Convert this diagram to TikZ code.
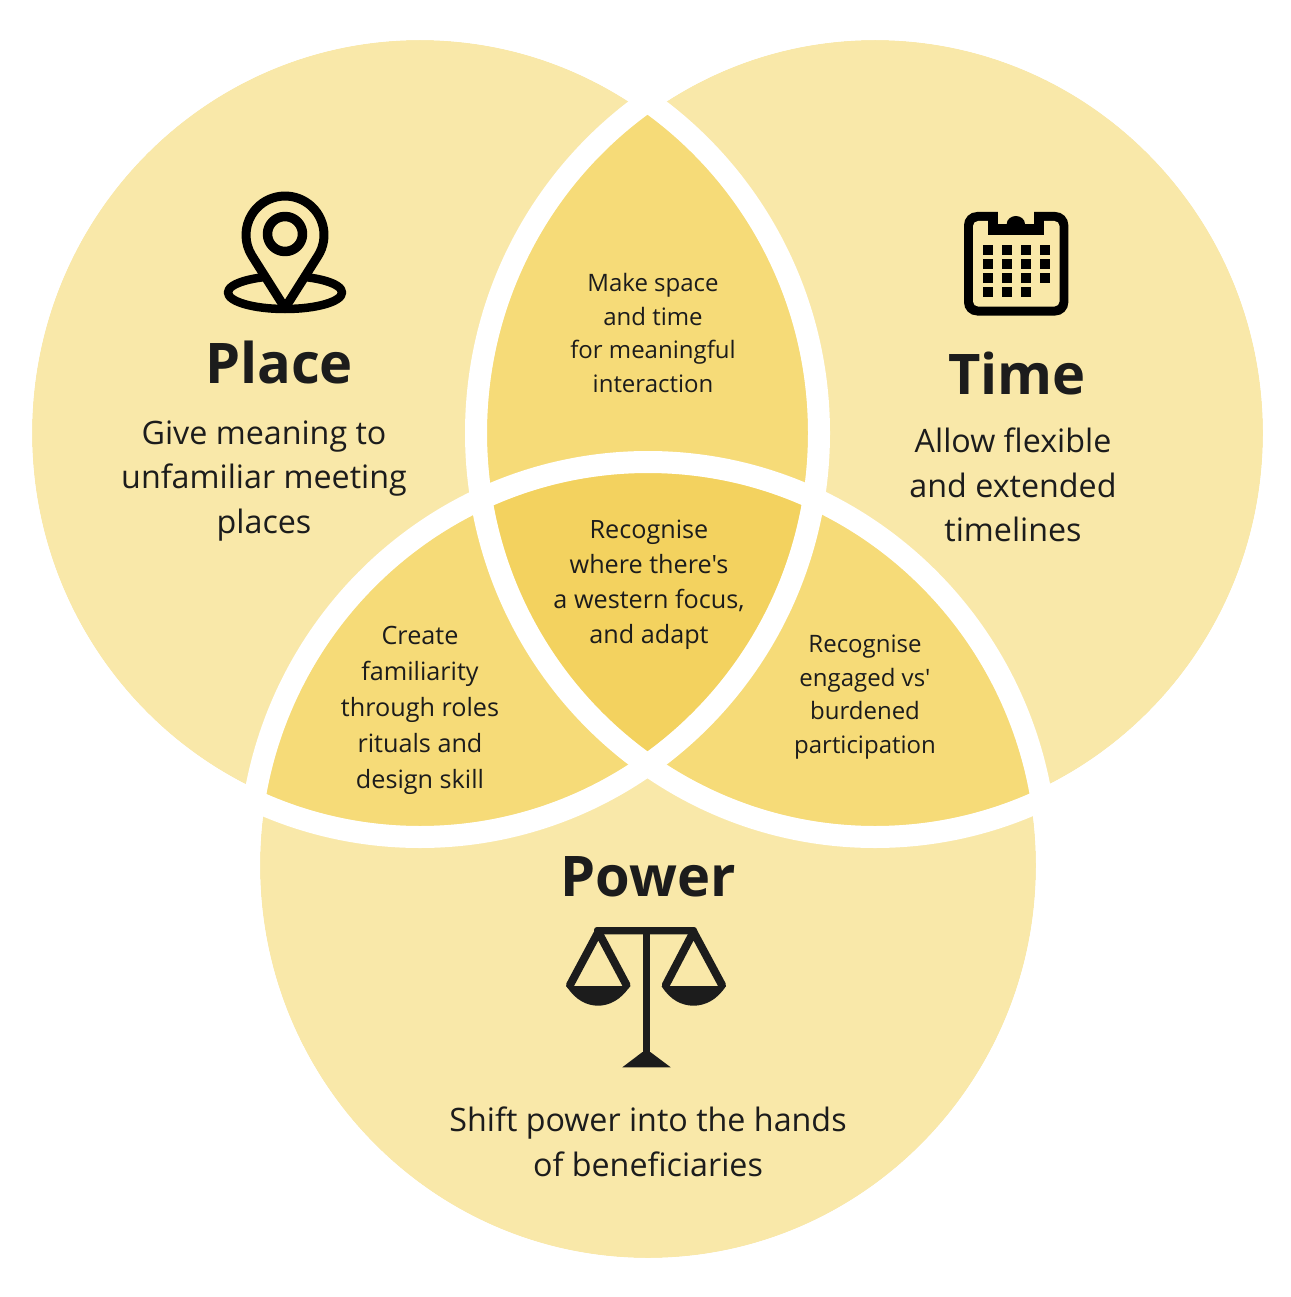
\documentclass[tikz,border=0pt]{standalone}
\usepackage{fontspec}
\setmainfont{Open Sans}[Ligatures=TeXOff]
\definecolor{lite}{HTML}{F9E8A9}
\definecolor{midc}{HTML}{F6DB78}
\definecolor{core}{HTML}{F3D25F}
\definecolor{ink}{HTML}{1C1C1C}
\begin{document}
\begin{tikzpicture}[x=1pt,y=-1pt,
  ttl/.style={text=ink,align=center,inner sep=0pt,font=\fontsize{56}{60}\selectfont\bfseries},
  bodytxt/.style={text=ink,align=center,inner sep=0pt,font=\fontsize{32.25}{44.5}\selectfont},
  smalltxt/.style={text=ink,align=center,inner sep=0pt},
  icon/.style={line width=8.5pt,draw=black,line join=round}]
\useasboundingbox (0,0) rectangle (1290,1297);
\fill[white] (0,0) rectangle (1290,1297);
\def\shA{(420,433) ellipse [x radius=388,y radius=393]}
\def\shB{(875,433) ellipse [x radius=388,y radius=393]}
\def\shC{(648,865.5) ellipse [x radius=388,y radius=392.5]}
\fill[lite] \shA; \fill[lite] \shB; \fill[lite] \shC;
\begin{scope}\clip \shA; \fill[midc] \shB; \fill[midc] \shC; \end{scope}
\begin{scope}\clip \shB; \fill[midc] \shC; \end{scope}
\begin{scope}\clip \shA; \clip \shB; \fill[core] \shC; \end{scope}
\draw[white,line width=22pt] (420,433) ellipse [x radius=399,y radius=404];
\draw[white,line width=22pt] (875,433) ellipse [x radius=399,y radius=404];
\draw[white,line width=22pt] (648,865.5) ellipse [x radius=399,y radius=403.5];
% pin icon
\draw[icon] (285,292.5) ellipse [x radius=57,y radius=16.5];
\draw[icon,fill=lite,line width=9pt] (285,308) -- (318,255.8) arc[start angle=32.2,end angle=-212.2,radius=39] -- cycle;
\draw[icon,line width=9.5pt] (285,234) circle [radius=17.5];
% calendar icon
\fill[black,rounded corners=13pt] (964,212) rectangle (1068.3,315.5);
\fill[lite,rounded corners=5pt] (973,221) rectangle (1059.5,306.5);
\fill[black] (987.7,216) rectangle (1044.3,235);
\fill[lite] (997.7,210) rectangle (1034.3,224);
\fill[black] (1006.7,225) -- (1006.7,224) arc[start angle=180,end angle=360,x radius=9.15,y radius=8] -- (1025,225) -- cycle;
\foreach \cx in {983,1002,1021,1040}{\foreach \cy in {245,259,273.4}{\fill[black] (\cx,\cy) rectangle ++(9.6,9.6);}}
\foreach \cx in {983,1002,1021}{\fill[black] (\cx,287.4) rectangle ++(9.6,9.6);}
% scales icon
\fill[ink,rounded corners=3pt] (594,927) rectangle (697,934.3);
\fill[ink] (642.5,930) rectangle (650.3,1052) ;
\fill[ink] (622.3,1067.3) -- (642.5,1052) -- (650.3,1052) -- (670.7,1067.3) -- cycle;
\draw[ink,line width=8pt,line join=round,line cap=round] (570,985) -- (598.3,932) -- (626.5,985);
\draw[ink,line width=8pt,line join=round,line cap=round] (665.8,985) -- (693.5,932) -- (722,985);
\fill[ink] (566.5,986) .. controls (575,1000) and (587,1005.7) .. (598,1005.7) .. controls (609,1005.7) and (621,1000) .. (630,986) -- cycle;
\fill[ink] (661.5,986) .. controls (670,1000) and (682,1005.7) .. (693.5,1005.7) .. controls (705,1005.7) and (717,1000) .. (726,986) -- cycle;
% text
\node[ttl] (tplace) at (279,362) {Place};
\node[ttl] (ttime) at (1017,373) {Time};
\node[ttl] (tpower) at (648,877) {Power};
\node[bodytxt] (bplace) at (264,481) {Give meaning to\\unfamiliar meeting\\places};
\node[bodytxt] (btime) at (1013,485) {Allow flexible\\and extended\\timelines};
\node[bodytxt] (bpower) at (648,1142) {Shift power into the hands\\of beneficiaries};
\node[smalltxt,font=\fontsize{24}{33.7}\selectfont] (top) at (653,333) {Make space\\and time\\for meaningful\\interaction};
\node[smalltxt,font=\fontsize{25.2}{35}\selectfont] (core) at (649,585) {Recognise\\where there's\\a western focus,\\and adapt};
\node[smalltxt,font=\fontsize{25.2}{36}\selectfont] (left) at (420,710) {Create\\familiarity\\through roles\\rituals and\\design skill};
\node[smalltxt,font=\fontsize{24}{33.7}\selectfont] (right) at (865,697) {Recognise\\engaged vs'\\burdened\\participation};
\end{tikzpicture}
\end{document}
